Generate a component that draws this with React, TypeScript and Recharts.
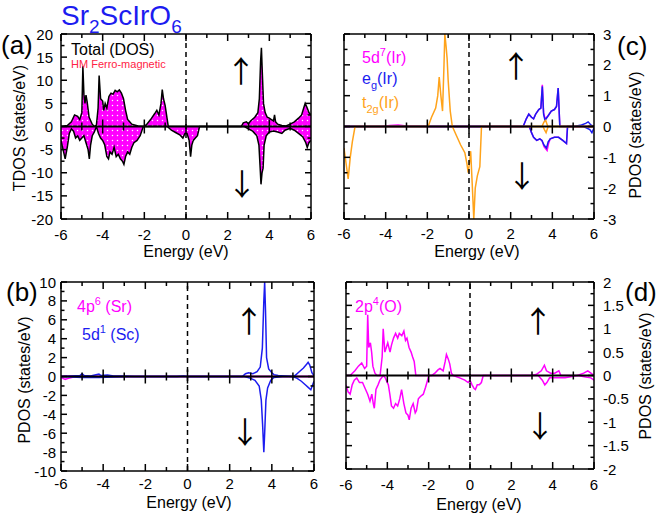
import React from "react";
import { ComposedChart, Area, Line, XAxis, YAxis, ReferenceLine } from "recharts";

type Pt = [number, number];

// energy axis, shared by all four panels
const energyTicks = [-6, -5, -4, -3, -2, -1, 0, 1, 2, 3, 4, 5, 6];
const energyLabels = [-6, -4, -2, 0, 2, 4, 6];

// y ticks per panel (labelled + minor)
const tdosTicks = [-20, -17.5, -15, -12.5, -10, -7.5, -5, -2.5, 0, 2.5, 5, 7.5, 10, 12.5, 15, 17.5, 20];
const tdosLabels = [-20, -15, -10, -5, 0, 5, 10, 15, 20];
const irTicks = [-3, -2.5, -2, -1.5, -1, -0.5, 0, 0.5, 1, 1.5, 2, 2.5, 3];
const irLabels = [-3, -2, -1, 0, 1, 2, 3];
const srScTicks = [-10, -9, -8, -7, -6, -5, -4, -3, -2, -1, 0, 1, 2, 3, 4, 5, 6, 7, 8, 9, 10];
const srScLabels = [-10, -8, -6, -4, -2, 0, 2, 4, 6, 8, 10];
const oxTicks = [-2, -1.75, -1.5, -1.25, -1, -0.75, -0.5, -0.25, 0, 0.25, 0.5, 0.75, 1, 1.25, 1.5, 1.75, 2];
const oxLabels = [-2, -1.5, -1, -0.5, 0, 0.5, 1, 1.5, 2];

// (a) total DOS
const totalUp: Pt[] = [
  [-6, 0], [-5.7, 0.2], [-5.5, 1.0], [-5.35, 2.5], [-5.2, 2.2], [-5.1, 1.5], [-5.0, 3], [-4.95, 13], [-4.9, 7],
  [-4.85, 5], [-4.8, 6.8], [-4.75, 5.5], [-4.65, 2], [-4.5, 0.5], [-4.4, 0], [-4.3, 0.3], [-4.22, 4], [-4.17, 11],
  [-4.1, 6], [-4.0, 5.5], [-3.95, 3.5], [-3.88, 5], [-3.8, 4], [-3.7, 6.5], [-3.6, 7.2], [-3.5, 7], [-3.4, 7.8],
  [-3.3, 7.5], [-3.2, 7.9], [-3.1, 7.2], [-3.0, 6], [-2.9, 3.5], [-2.8, 1.5], [-2.6, 0.5], [-2.3, 0.1], [-2.0, 0],
  [-1.9, 0.4], [-1.7, 1.5], [-1.5, 2.8], [-1.4, 3.5], [-1.3, 2.5], [-1.2, 5], [-1.14, 8], [-1.08, 6], [-1.0, 4.5],
  [-0.9, 1.5], [-0.85, 0], [2.65, 0], [2.75, 0.8], [2.9, 1.0], [3.0, 0.6], [3.1, 1.2], [3.3, 2], [3.45, 3],
  [3.52, 6], [3.58, 14], [3.62, 17], [3.66, 12], [3.72, 5], [3.8, 3], [3.9, 2], [4.0, 1.8], [4.1, 1.5], [4.2, 1.2],
  [4.25, 2.5], [4.3, 1], [4.4, 0.5], [4.6, 0.2], [4.8, 0.1], [5.0, 0.5], [5.2, 1.0], [5.4, 1.8], [5.55, 2.5],
  [5.65, 4], [5.72, 5], [5.8, 4.2], [5.9, 3], [6, 2.5],
];
const totalDn: Pt[] = [
  [-6, -3], [-5.9, -5], [-5.8, -7], [-5.7, -4.5], [-5.6, -1.5], [-5.5, -0.5], [-5.4, -1], [-5.3, -2.5], [-5.2, -2],
  [-5.1, -3], [-5.0, -2.5], [-4.9, -2], [-4.8, -3.5], [-4.7, -5], [-4.64, -7], [-4.58, -4], [-4.5, -2], [-4.4, -1.2],
  [-4.3, 0], [-4.2, -1.5], [-4.1, -2.5], [-4.0, -3], [-3.9, -4], [-3.8, -6.5], [-3.72, -7], [-3.65, -5.5],
  [-3.55, -6], [-3.45, -4.5], [-3.35, -6.5], [-3.25, -6], [-3.15, -7], [-3.05, -7.5], [-2.98, -8.2], [-2.9, -6.5],
  [-2.8, -5.5], [-2.7, -6], [-2.6, -4.5], [-2.5, -3.5], [-2.35, -3], [-2.2, -2], [-2.05, 0], [-0.9, 0],
  [-0.7, -0.8], [-0.5, -1.3], [-0.3, -1.8], [-0.15, -2.5], [-0.05, -1.5], [0.05, -1.5], [0.15, -3], [0.22, -6.5],
  [0.28, -4], [0.35, -3], [0.45, -2.5], [0.55, -2], [0.65, 0], [2.8, 0], [3.0, -0.5], [3.2, -1], [3.4, -2],
  [3.5, -4], [3.56, -9], [3.6, -12.5], [3.65, -10], [3.7, -9], [3.75, -4], [3.85, -2], [4.0, -1.2], [4.2, -1.0],
  [4.4, -1.2], [4.6, -1.5], [4.75, -0.8], [5.0, -0.4], [5.2, -0.8], [5.4, -1.5], [5.6, -2.2], [5.75, -3.5],
  [5.82, -4.5], [5.9, -3.5], [6, -3],
];

// (c) Ir 5d
const d5Up: Pt[] = [
  [-6, 0], [-4.2, 0], [-3.8, 0.03], [-3.4, 0.05], [-3.0, 0.02], [-2.0, 0], [2.6, 0], [2.75, 0.25], [2.87, 0.4],
  [3.0, 0.3], [3.1, 0.25], [3.2, 0.4], [3.35, 0.55], [3.45, 0.6], [3.52, 1.35], [3.58, 0.45], [3.65, 0.25],
  [3.8, 0.35], [3.95, 0.5], [4.1, 0.55], [4.2, 0.65], [4.28, 1.25], [4.36, 0], [6, 0],
];
const d5Dn: Pt[] = [
  [-6, 0], [2.9, 0], [3.0, -0.2], [3.1, -0.35], [3.25, -0.45], [3.4, -0.4], [3.5, -0.45], [3.6, -0.65],
  [3.75, -0.78], [3.82, -0.55], [3.9, -0.4], [4.1, -0.35], [4.3, -0.35], [4.5, -0.45], [4.68, -0.55], [4.73, 0],
  [6, 0],
];
const egUp: Pt[] = [
  [-6, 0], [2.6, 0], [2.75, 0.25], [2.87, 0.4], [3.0, 0.3], [3.1, 0.25], [3.2, 0.4], [3.35, 0.55], [3.45, 0.6],
  [3.52, 1.3], [3.58, 0.4], [3.65, 0.2], [3.8, 0.35], [3.95, 0.5], [4.1, 0.55], [4.2, 0.65], [4.28, 1.25],
  [4.36, 0], [5.05, 0], [5.4, 0.05], [5.6, 0.1], [5.72, 0.15], [5.85, 0.05], [6, 0],
];
const egDn: Pt[] = [
  [-6, 0], [2.9, 0], [3.0, -0.2], [3.1, -0.35], [3.25, -0.45], [3.4, -0.4], [3.5, -0.45], [3.6, -0.6],
  [3.72, -0.7], [3.8, -0.5], [3.9, -0.4], [4.1, -0.35], [4.3, -0.35], [4.5, -0.45], [4.68, -0.55], [4.73, 0],
  [5.5, 0], [5.8, -0.1], [5.9, -0.2], [6, -0.05],
];
const t2gUp: Pt[] = [
  [-6, 0], [-1.96, 0], [-1.8, 0.3], [-1.6, 0.6], [-1.5, 1.0], [-1.43, 1.6], [-1.35, 1.0], [-1.27, 0.5],
  [-1.2, 2.0], [-1.16, 3], [-1.1, 2.6], [-1.05, 2.2], [-1.0, 1.5], [-0.9, 0.5], [-0.8, 0], [3.5, 0],
  [3.6, 0.15], [3.68, 0.2], [3.78, 0], [6, 0],
];
const t2gDn: Pt[] = [
  [-6, -0.7], [-5.9, -1.2], [-5.8, -1.7], [-5.7, -1.0], [-5.6, -0.5], [-5.47, 0], [-0.8, 0], [-0.6, -0.3],
  [-0.4, -0.6], [-0.2, -0.85], [-0.1, -1.2], [-0.04, -1.5], [0.02, -1.2], [0.08, -0.8], [0.15, -1.8],
  [0.23, -3], [0.3, -2], [0.4, -1.6], [0.52, -1.3], [0.6, 0], [3.55, 0], [3.62, -0.1], [3.7, -0.2], [3.8, 0],
  [6, 0],
];

// (b) Sr 4p and Sc 5d
const srUp: Pt[] = [[-6, 0], [-5.8, 0.05], [-5.5, 0.05], [-4, 0], [6, 0]];
const srDn: Pt[] = [[-6, -0.1], [-5.8, -0.3], [-5.65, -0.2], [-5.4, -0.05], [-5, 0], [6, 0]];
const scUp: Pt[] = [
  [-6, 0], [-5.5, 0.05], [-5.1, 0.1], [-5.0, 0.3], [-4.9, 0.1], [-4.6, 0.05], [-4.2, 0.25], [-4.1, 0.1],
  [-3.8, 0.15], [-3.5, 0.05], [-3, 0.05], [-2.5, 0], [-0.5, 0], [-0.2, 0.05], [0, 0], [2.6, 0], [2.75, 0.3],
  [2.9, 0.4], [3.1, 0.3], [3.3, 0.5], [3.45, 1], [3.55, 3], [3.62, 8], [3.66, 10], [3.7, 7], [3.75, 2],
  [3.85, 0.8], [4.0, 0.4], [4.1, 0.2], [4.3, 0.1], [4.6, 0.05], [5.0, 0], [5.1, 0.1], [5.3, 0.5], [5.5, 0.9],
  [5.65, 1.3], [5.72, 1.5], [5.8, 1.2], [5.9, 0.4], [6, 0.1],
];
const scDn: Pt[] = [
  [-6, 0], [-5.0, -0.1], [-4.2, -0.1], [-3.5, -0.05], [-2.5, 0], [2.7, 0], [3.0, -0.2], [3.2, -0.4],
  [3.4, -1], [3.5, -2.5], [3.56, -5], [3.62, -8], [3.66, -6], [3.72, -2.5], [3.8, -1.2], [3.95, -0.4],
  [4.1, -0.1], [4.5, 0], [5.0, 0], [5.2, -0.2], [5.4, -0.5], [5.6, -0.9], [5.75, -1.2], [5.85, -1.4],
  [5.95, -0.8], [6, -0.5],
];

// (d) O 2p
const oUp: Pt[] = [
  [-6, 0], [-5.8, 0], [-5.57, 0.1], [-5.4, 0.2], [-5.24, 0.27], [-5.1, 0.15], [-5.0, 0.2], [-4.95, 1.3],
  [-4.9, 0.6], [-4.82, 0.7], [-4.76, 0.5], [-4.7, 0.2], [-4.6, 0.05], [-4.5, 0], [-4.35, 0], [-4.25, 0.4],
  [-4.2, 1.0], [-4.12, 0.5], [-4.05, 0.6], [-3.98, 0.7], [-3.87, 0.5], [-3.8, 0.65], [-3.7, 0.8], [-3.6, 0.9],
  [-3.5, 0.8], [-3.42, 0.9], [-3.3, 0.85], [-3.2, 0.95], [-3.12, 0.75], [-3.05, 0.8], [-2.95, 0.6],
  [-2.85, 0.5], [-2.78, 0.4], [-2.7, 0.3], [-2.62, 0], [-1.86, 0], [-1.7, 0.05], [-1.55, 0.12], [-1.45, 0.15],
  [-1.3, 0.1], [-1.2, 0.3], [-1.14, 0.45], [-1.05, 0.35], [-0.98, 0.25], [-0.9, 0.05], [-0.81, 0], [2.9, 0],
  [3.2, 0.02], [3.45, 0.1], [3.6, 0.22], [3.7, 0.1], [3.9, 0.05], [4.1, 0.05], [4.3, 0.1], [4.4, 0], [5.2, 0],
  [5.5, 0.05], [5.7, 0.1], [5.85, 0.05], [6, 0],
];
const oDn: Pt[] = [
  [-6, -0.2], [-5.9, -0.35], [-5.8, -0.4], [-5.7, -0.2], [-5.6, -0.1], [-5.48, -0.05], [-5.35, -0.15],
  [-5.2, -0.15], [-5.1, -0.25], [-4.95, -0.4], [-4.84, -0.55], [-4.75, -0.4], [-4.68, -0.6], [-4.63, -0.7],
  [-4.55, -0.3], [-4.45, -0.2], [-4.36, -0.1], [-4.2, 0], [-4.1, -0.05], [-3.95, -0.2], [-3.88, -0.4],
  [-3.8, -0.65], [-3.7, -0.7], [-3.6, -0.6], [-3.5, -0.65], [-3.4, -0.5], [-3.31, -0.3], [-3.2, -0.6],
  [-3.1, -0.8], [-3.0, -0.85], [-2.94, -0.95], [-2.85, -0.7], [-2.75, -0.6], [-2.65, -0.8], [-2.59, -0.75],
  [-2.5, -0.5], [-2.4, -0.45], [-2.26, -0.4], [-2.15, -0.25], [-1.99, 0], [-0.81, 0], [-0.5, -0.05],
  [-0.25, -0.1], [-0.09, -0.15], [0, -0.1], [0.1, -0.2], [0.2, -0.28], [0.26, -0.3], [0.35, -0.2],
  [0.45, -0.2], [0.55, -0.15], [0.64, 0], [3.3, 0], [3.5, -0.1], [3.62, -0.2], [3.72, -0.15], [3.85, -0.05],
  [4.2, -0.05], [4.6, -0.05], [5.2, 0], [5.6, -0.03], [5.85, -0.05], [6, -0.1],
];

const FONT = '"Liberation Sans", Arial, Helvetica, sans-serif';
const ARROW_FONT = '"Noto Sans CJK JP", "DejaVu Sans", sans-serif';
const MAGENTA = "#ff00ff";
const BLUE = "#1c1cf0";
const ORANGE = "#ffa31a";
const PAD = 40;
const AX = 1; // thickness reserved for each axis

const rows = (pts: Pt[]) => pts.map(([e, v]) => ({ e, v }));

type PanelProps = {
  left: number;
  top: number;
  w: number;
  h: number;
  yTicks: number[];
  yLabels: number[];
  side: "left" | "right";
  xLabelDy: number;
  yLabelGap: number;
  children: React.ReactNode;
};

function Panel({ left, top, w, h, yTicks, yLabels, side, xLabelDy, yLabelGap, children }: PanelProps) {
  const yMin = yTicks[0];
  const yMax = yTicks[yTicks.length - 1];
  const perPx = (yMax - yMin) / h;
  const frame = { stroke: "#000", strokeWidth: 1.5 };

  const xTick = (pos: "bottom" | "top") => (p: any) => {
    const { x, y, payload } = p;
    const v = payload.value;
    const major = energyLabels.includes(v);
    const len = major ? 7 : 4;
    return (
      <g>
        <line x1={x} x2={x} y1={y} y2={pos === "bottom" ? y - len : y + len} {...frame} />
        {pos === "bottom" && major && (
          <text x={x} y={y + xLabelDy} textAnchor="middle" fontSize={15} fontFamily={FONT} fill="#000">
            {v}
          </text>
        )}
      </g>
    );
  };

  const yTick = (pos: "left" | "right") => (p: any) => {
    const { x, y, payload } = p;
    const v = payload.value;
    const major = yLabels.includes(v);
    const len = major ? 6 : 3.5;
    const showLabel = pos === side && major;
    return (
      <g>
        <line x1={x} x2={pos === "left" ? x + len : x - len} y1={y} y2={y} {...frame} />
        {showLabel && (
          <text
            x={pos === "left" ? x - yLabelGap : x + yLabelGap}
            y={y + 5.5}
            textAnchor={pos === "left" ? "end" : "start"}
            fontSize={15}
            fontFamily={FONT}
            fill="#000"
          >
            {v}
          </text>
        )}
      </g>
    );
  };

  const zeroTicks = energyTicks
    .filter((e) => e > -6 && e < 6)
    .map((e) => {
      const half = (energyLabels.includes(e) ? 7 : 4) * perPx;
      return (
        <ReferenceLine
          key={"z" + e}
          segment={[{ x: e, y: -half }, { x: e, y: half }]}
          stroke="#000"
          strokeWidth={1.5}
          ifOverflow="visible"
        />
      );
    });

  return (
    <div style={{ position: "absolute", left: left - PAD, top: top - PAD }}>
      <ComposedChart
        width={w + 2 * PAD}
        height={h + 2 * PAD}
        margin={{ top: PAD - AX, right: PAD - AX, bottom: PAD - AX, left: PAD - AX }}
      >
        <defs>
          <pattern id="dots" width="5" height="5" patternUnits="userSpaceOnUse">
            <rect width="5" height="5" fill={MAGENTA} />
            <circle cx="1.5" cy="1.5" r="0.75" fill="#fff" />
          </pattern>
        </defs>
        <XAxis
          xAxisId={0}
          dataKey="e"
          type="number"
          domain={[-6, 6]}
          ticks={energyTicks}
          interval={0}
          orientation="bottom"
          height={AX}
          tickSize={0}
          tickMargin={0}
          tickLine={false}
          axisLine={frame}
          tick={xTick("bottom")}
          allowDataOverflow
        />
        <XAxis
          xAxisId="t"
          dataKey="e"
          type="number"
          domain={[-6, 6]}
          ticks={energyTicks}
          interval={0}
          orientation="top"
          height={AX}
          tickSize={0}
          tickMargin={0}
          tickLine={false}
          axisLine={frame}
          tick={xTick("top")}
          allowDataOverflow
        />
        <YAxis
          yAxisId={0}
          type="number"
          domain={[yMin, yMax]}
          ticks={yTicks}
          interval={0}
          orientation="left"
          width={AX}
          tickSize={0}
          tickMargin={0}
          tickLine={false}
          axisLine={frame}
          tick={yTick("left")}
          allowDataOverflow
        />
        <YAxis
          yAxisId="r"
          type="number"
          domain={[yMin, yMax]}
          ticks={yTicks}
          interval={0}
          orientation="right"
          width={AX}
          tickSize={0}
          tickMargin={0}
          tickLine={false}
          axisLine={frame}
          tick={yTick("right")}
          allowDataOverflow
        />
        {children}
        <ReferenceLine x={0} stroke="#000" strokeWidth={1.5} strokeDasharray="5 4" />
        <ReferenceLine y={0} stroke="#000" strokeWidth={2} />
        {zeroTicks}
      </ComposedChart>
    </div>
  );
}

const line = (key: string, pts: Pt[], color: string) => (
  <Line
    key={key}
    data={rows(pts)}
    dataKey="v"
    type="linear"
    stroke={color}
    strokeWidth={1.5}
    dot={false}
    activeDot={false}
    isAnimationActive={false}
  />
);

const area = (key: string, pts: Pt[]) => (
  <Area
    key={key}
    data={rows(pts)}
    dataKey="v"
    type="linear"
    stroke="#000"
    strokeWidth={1.5}
    fill="url(#dots)"
    fillOpacity={1}
    dot={false}
    activeDot={false}
    isAnimationActive={false}
  />
);

const txt = { fontFamily: FONT };
const arr = { fontFamily: ARROW_FONT, fontSize: 30, textAnchor: "middle" as const, fill: "#000" };

export default function App() {
  return (
    <div
      style={{
        position: "absolute",
        left: 0,
        top: 0,
        width: 661,
        height: 516,
        background: "#fff",
        overflow: "hidden",
      }}
    >
      <Panel left={61} top={34} w={250} h={185} yTicks={tdosTicks} yLabels={tdosLabels} side="left" xLabelDy={21} yLabelGap={8}>
        {area("up", totalUp)}
        {area("dn", totalDn)}
      </Panel>
      <Panel left={344} top={34} w={250} h={185} yTicks={irTicks} yLabels={irLabels} side="right" xLabelDy={20} yLabelGap={9}>
        {line("d5u", d5Up, MAGENTA)}
        {line("d5d", d5Dn, MAGENTA)}
        {line("egu", egUp, BLUE)}
        {line("egd", egDn, BLUE)}
        {line("t2u", t2gUp, ORANGE)}
        {line("t2d", t2gDn, ORANGE)}
      </Panel>
      <Panel left={61} top={282} w={253} h={189} yTicks={srScTicks} yLabels={srScLabels} side="left" xLabelDy={18} yLabelGap={5}>
        {line("sru", srUp, MAGENTA)}
        {line("srd", srDn, MAGENTA)}
        {line("scu", scUp, BLUE)}
        {line("scd", scDn, BLUE)}
      </Panel>
      <Panel left={346} top={282} w={248} h={187} yTicks={oxTicks} yLabels={oxLabels} side="right" xLabelDy={21} yLabelGap={9}>
        {line("ou", oUp, MAGENTA)}
        {line("od", oDn, MAGENTA)}
      </Panel>

      <svg width={661} height={516} style={{ position: "absolute", left: 0, top: 0, pointerEvents: "none" }}>
        {/* title */}
        <text x={61} y={25} fontSize={28} fill={BLUE} {...txt}>
          Sr
          <tspan fontSize={19} dy={8}>2</tspan>
          <tspan dy={-8}>ScIrO</tspan>
          <tspan fontSize={19} dy={8}>6</tspan>
        </text>

        {/* panel letters */}
        <text x={1} y={54} fontSize={26} {...txt}>(a)</text>
        <text x={617} y={55} fontSize={26} {...txt}>(c)</text>
        <text x={6} y={301} fontSize={26} {...txt}>(b)</text>
        <text x={625} y={301} fontSize={26} {...txt}>(d)</text>

        {/* axis titles */}
        <text x={186} y={257} fontSize={16} textAnchor="middle" {...txt}>Energy (eV)</text>
        <text x={477} y={257} fontSize={16} textAnchor="middle" {...txt}>Energy (eV)</text>
        <text x={189} y={508} fontSize={16} textAnchor="middle" {...txt}>Energy (eV)</text>
        <text x={479} y={510} fontSize={16} textAnchor="middle" {...txt}>Energy (eV)</text>
        <text x={19} y={128} dy={6} fontSize={16} textAnchor="middle" transform="rotate(-90 19 128)" {...txt}>TDOS (states/eV)</text>
        <text x={24} y={380} dy={6} fontSize={16} textAnchor="middle" transform="rotate(-90 24 380)" {...txt}>PDOS (states/eV)</text>
        <text x={635} y={135} dy={6} fontSize={16} textAnchor="middle" transform="rotate(-90 635 135)" {...txt}>PDOS (states/eV)</text>
        <text x={645} y={376} dy={6} fontSize={16} textAnchor="middle" transform="rotate(-90 645 376)" {...txt}>PDOS (states/eV)</text>

        {/* legends */}
        <text x={71} y={55} fontSize={16} {...txt}>Total (DOS)</text>
        <text x={71} y={68} fontSize={11} fill="#ff2244" {...txt}>HM Ferro-magnetic</text>

        <text x={362} y={63} fontSize={16} fill={MAGENTA} {...txt}>
          5d<tspan fontSize={11} dy={-7}>7</tspan><tspan dy={7}>(Ir)</tspan>
        </text>
        <text x={362} y={84} fontSize={16} fill={BLUE} {...txt}>
          e<tspan fontSize={11} dy={5}>g</tspan><tspan dy={-5}>(Ir)</tspan>
        </text>
        <text x={362} y={108} fontSize={16} fill={ORANGE} {...txt}>
          t<tspan fontSize={11} dy={5}>2g</tspan><tspan dy={-5}>(Ir)</tspan>
        </text>

        <text x={77} y={312} fontSize={16} fill={MAGENTA} {...txt}>
          4p<tspan fontSize={11} dy={-7}>6</tspan><tspan dy={7}> (Sr)</tspan>
        </text>
        <text x={82} y={340} fontSize={16} fill={BLUE} {...txt}>
          5d<tspan fontSize={11} dy={-7}>1</tspan><tspan dy={7}> (Sc)</tspan>
        </text>
        <text x={355} y={312} fontSize={16} fill={MAGENTA} {...txt}>
          2p<tspan fontSize={11} dy={-7}>4</tspan><tspan dy={7}>(O)</tspan>
        </text>

        {/* spin arrows */}
        <text x={241} y={82} {...arr}>↑</text>
        <text x={242} y={195} {...arr}>↓</text>
        <text x={516} y={77} {...arr}>↑</text>
        <text x={522} y={187} {...arr}>↓</text>
        <text x={249} y={332} {...arr}>↑</text>
        <text x={245} y={443} {...arr}>↓</text>
        <text x={538} y={332} {...arr}>↑</text>
        <text x={540} y={437} {...arr}>↓</text>
      </svg>
    </div>
  );
}
